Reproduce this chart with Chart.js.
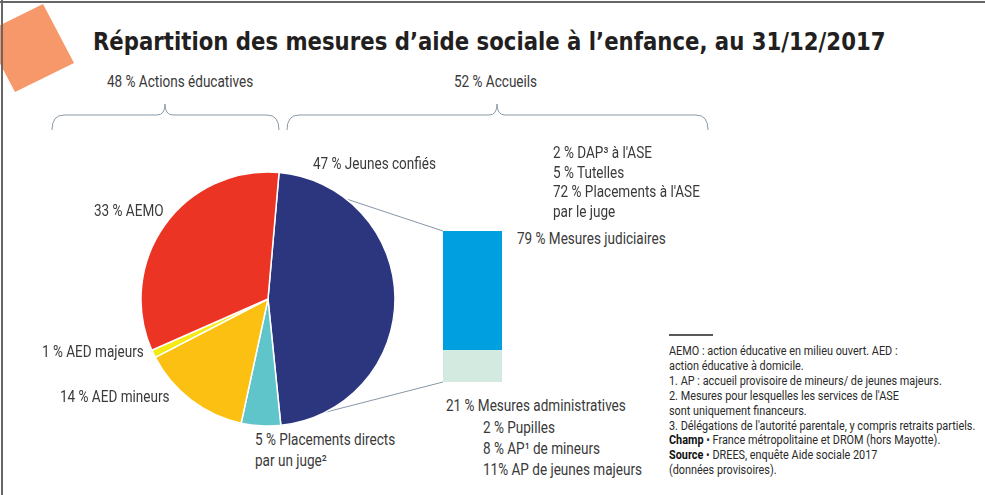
<!DOCTYPE html>
<html lang="fr">
<head>
<meta charset="utf-8">
<script src="https://cdn.jsdelivr.net/npm/chart.js@4.4.0/dist/chart.umd.min.js"></script>
<style>
  html, body { margin: 0; padding: 0; background: #fff; }
  #page { position: relative; width: 985px; height: 495px; overflow: hidden;
          font-family: Roboto, 'Liberation Sans', sans-serif; color: #3a3a3a; }
  #deco { position: absolute; left: 0; top: 0; }
  #pie { position: absolute; left: 138px; top: 169px; }
  #barre { position: absolute; left: 443px; top: 231px; }
  .txt { position: absolute; white-space: nowrap; font-size: 16px; line-height: 20px; transform-origin: 0 50%; }
  #titre { position: absolute; left: 93px; top: 26px; white-space: nowrap; transform-origin: 0 0;
           font-family: 'DejaVu Sans Condensed', 'DejaVu Sans', sans-serif; font-weight: bold;
           font-size: 24px; line-height: 32px; color: #231f20; }
  #notes { position: absolute; left: 669px; top: 344px; font-size: 12.5px; line-height: 14.9px;
           color: #2a2a2a; white-space: nowrap; transform-origin: 0 0; }
  #notes b { color: #111; }
</style>
</head>
<body>
<div id="page">
  <svg id="deco" width="985" height="495">
    <polygon points="43,4 74,63 15,92 -16,33" fill="#f7986b"/>
    <line x1="0" y1="2" x2="985" y2="2" stroke="#333" stroke-width="1.5"/>
    <line x1="2" y1="0" x2="2" y2="495" stroke="#666" stroke-width="2"/>
    <path d="M52,130 Q52,115 64,115 L157,115 Q165,115 165,104 Q165,115 173,115 L267,115 Q279,115 279,130"
          fill="none" stroke="#8a9aa8" stroke-width="1"/>
    <path d="M287,130 Q287,115 299,115 L489,115 Q497,115 497,104 Q497,115 505,115 L696,115 Q708,115 708,130"
          fill="none" stroke="#8a9aa8" stroke-width="1"/>
    <line x1="669" y1="335" x2="713" y2="335" stroke="#222" stroke-width="1.5"/>
    <line id="lienHaut" stroke="#8797a6" stroke-width="1"/>
    <line id="lienBas" stroke="#8797a6" stroke-width="1"/>
  </svg>
  <canvas id="pie" width="260" height="260"></canvas>
  <canvas id="barre" width="59" height="151"></canvas>
  <div id="titre">Répartition des mesures d’aide sociale à l’enfance, au 31/12/2017</div>
  <div id="textes"></div>
  <div id="notes"></div>
</div>

<script>
// donnees du camembert (ordre horaire a partir du haut)
const categories = ['Jeunes confiés', 'Placements directs', 'AED mineurs', 'AED majeurs', 'AEMO']
const parts = [47, 5, 14, 1, 33]
const couleurs = ['#2b367f', '#5fc5cb', '#fbc011', '#f6ea14', '#ec3424']

// barre des jeunes confies
const mesures = ['Mesures administratives', 'Mesures judiciaires']
const partsMesures = [21, 79]
const couleursMesures = ['#d2eadf', '#009fe0']

// regroupements
const groupes = ['Actions éducatives', 'Accueils']
const partsGroupes = [48, 52]

// detail des mesures
const detailJudiciaires = ['2 % DAP³ à  l\'ASE', '5 % Tutelles', '72 % Placements à l\'ASE', 'par le juge']
const detailAdministratives = ['2 % Pupilles', '8 % AP¹ de mineurs', '11% AP de jeunes majeurs']

const notes = [
    'AEMO : action éducative en milieu ouvert. AED :',
    'action éducative à domicile.',
    '1. AP : accueil provisoire de mineurs/ de jeunes majeurs.',
    '2. Mesures pour lesquelles les services de l\'ASE',
    'sont uniquement financeurs.',
    '3. Délégations de l\'autorité parentale, y compris retraits partiels.',
    '<b>Champ</b> • France métropolitaine et DROM (hors Mayotte).',
    '<b>Source</b> • DREES, enquête Aide sociale 2017',
    '(données provisoires).'
]

const pieChart = new Chart(document.getElementById('pie'), {
    type: 'pie',
    data: {
        labels: categories,
        datasets: [{
            data: parts,
            backgroundColor: couleurs,
            borderColor: '#fff',
            borderWidth: 1.5
        }]
    },
    options: {
        responsive: false,
        animation: false,
        radius: 127,
        rotation: 5,
        layout: { padding: 0 },
        plugins: { legend: { display: false }, tooltip: { enabled: false } }
    }
})

const barChart = new Chart(document.getElementById('barre'), {
    type: 'bar',
    data: {
        labels: ['Jeunes confiés'],
        datasets: mesures.map((m, i) => ({
            label: m,
            data: [partsMesures[i]],
            backgroundColor: couleursMesures[i],
            borderWidth: 0,
            barPercentage: 1,
            categoryPercentage: 1
        }))
    },
    options: {
        responsive: false,
        animation: false,
        layout: { padding: 0 },
        scales: {
            x: { display: false, stacked: true },
            y: { display: false, stacked: true, min: 0, max: 100 }
        },
        plugins: { legend: { display: false }, tooltip: { enabled: false } }
    }
})

// textes (police etroite simulee par un scaleX)
let echelle = 1

function ajoute(txt, x, y) {
    let d = document.createElement('div')
    d.className = 'txt'
    d.innerHTML = txt
    d.style.left = x + 'px'
    d.style.top = (y - 10) + 'px'
    d.style.transform = `scaleX(${echelle})`
    document.getElementById('textes').appendChild(d)
    return d
}

// etalon : "79 % Mesures judiciaires" fait ~149 px dans l'original
let etalon = ajoute(`${partsMesures[1]} % ${mesures[1]}`, 517, 239)
echelle = 149 / etalon.offsetWidth
etalon.style.transform = `scaleX(${echelle})`

let g0 = ajoute(`${partsGroupes[0]} % ${groupes[0]}`, 0, 82)
g0.style.left = (180 - g0.offsetWidth * echelle / 2) + 'px'
let g1 = ajoute(`${partsGroupes[1]} % ${groupes[1]}`, 0, 82)
g1.style.left = (495 - g1.offsetWidth * echelle / 2) + 'px'

ajoute(`${parts[0]} % ${categories[0]}`, 313, 164)
ajoute(`${parts[4]} % ${categories[4]}`, 94, 211)
ajoute(`${parts[3]} % ${categories[3]}`, 42, 352)
ajoute(`${parts[2]} % ${categories[2]}`, 60, 397)
ajoute(`${parts[1]} % ${categories[1]}`, 255, 440)
ajoute('par un juge²', 255, 461)

detailJudiciaires.forEach((t, i) => ajoute(t, 553, 153 + i * 19.7))
ajoute(`${partsMesures[0]} % ${mesures[0]}`, 446, 406)
detailAdministratives.forEach((t, i) => ajoute(t, 483, 428 + i * 21))

let blocNotes = document.getElementById('notes')
blocNotes.innerHTML = notes.join('<br>')
blocNotes.style.transform = `scaleX(${306 / blocNotes.offsetWidth})`

// ajuste la largeur du titre
let titre = document.getElementById('titre')
titre.style.transform = `scaleX(${792 / titre.offsetWidth})`

// lignes entre le camembert et la barre
function pointCamembert(deg) {
    let arc = pieChart.getDatasetMeta(0).data[0]
    let a = (deg - 90) * Math.PI / 180
    return [138 + arc.x + arc.outerRadius * Math.cos(a), 169 + arc.y + arc.outerRadius * Math.sin(a)]
}

let haut = barChart.getDatasetMeta(1).data[0]
let bas = barChart.getDatasetMeta(0).data[0]
let p1 = pointCamembert(38)
let p2 = pointCamembert(153)
let l1 = document.getElementById('lienHaut')
l1.setAttribute('x1', p1[0]); l1.setAttribute('y1', p1[1])
l1.setAttribute('x2', 443 + haut.x - haut.width / 2); l1.setAttribute('y2', 231 + haut.y)
let l2 = document.getElementById('lienBas')
l2.setAttribute('x1', p2[0]); l2.setAttribute('y1', p2[1])
l2.setAttribute('x2', 443 + bas.x - bas.width / 2); l2.setAttribute('y2', 231 + bas.base)
</script>
</body>
</html>
